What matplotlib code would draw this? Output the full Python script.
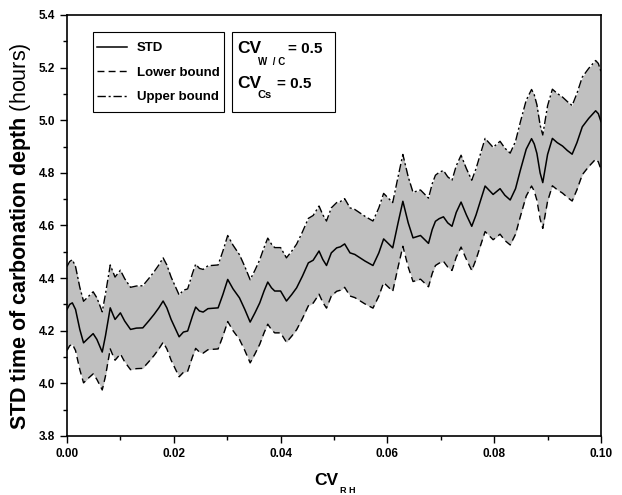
import matplotlib
matplotlib.use("Agg")
import matplotlib.pyplot as plt
from matplotlib.patches import Rectangle
from matplotlib.ticker import MultipleLocator, FormatStrFormatter

plt.rcParams['font.family'] = ['Liberation Sans', 'DejaVu Sans']
plt.rcParams['mathtext.fontset'] = 'custom'
plt.rcParams['mathtext.rm'] = 'Liberation Sans'
plt.rcParams['mathtext.bf'] = 'Liberation Sans:bold'

# values
cv_rh = [0.0000, 0.0005, 0.0010, 0.0016, 0.0024, 0.0031, 0.0039, 0.0049, 0.0056, 0.0066,
         0.0072, 0.0081, 0.0086, 0.0090, 0.0100, 0.0108, 0.0119, 0.0130, 0.0142, 0.0153,
         0.0163, 0.0172, 0.0180, 0.0187, 0.0195, 0.0210, 0.0218, 0.0226, 0.0235, 0.0241,
         0.0248, 0.0255, 0.0264, 0.0283, 0.0292, 0.0301, 0.0311, 0.0323, 0.0333,
         0.0343, 0.0352, 0.0361, 0.0369, 0.0376, 0.0383, 0.0389, 0.0400, 0.0411, 0.0421,
         0.0430, 0.0441, 0.0452, 0.0461, 0.0472, 0.0479, 0.0486, 0.0495, 0.0505, 0.0512,
         0.0520, 0.0530, 0.0539, 0.0558, 0.0573, 0.0584, 0.0593, 0.0610, 0.0620, 0.0629,
         0.0639, 0.0648, 0.0662,
         0.0677, 0.0684, 0.0690, 0.0697, 0.0705, 0.0713, 0.0721, 0.0729, 0.0738, 0.0748,
         0.0758, 0.0766, 0.0774, 0.0783, 0.0798, 0.0811, 0.0820, 0.0830, 0.0840, 0.0849,
         0.0860, 0.0870, 0.0875, 0.0880, 0.0886, 0.0891, 0.0900, 0.0909, 0.0918, 0.0928,
         0.0937, 0.0946, 0.0955, 0.0965, 0.0977, 0.0990, 0.0995, 0.1000]

std = [4.281, 4.300, 4.306, 4.281, 4.205, 4.154, 4.170, 4.189, 4.167, 4.119,
       4.180, 4.287, 4.262, 4.243, 4.268, 4.237, 4.205, 4.210, 4.211, 4.237,
       4.262, 4.287, 4.313, 4.287, 4.243, 4.177, 4.195, 4.199, 4.256, 4.290,
       4.275, 4.271, 4.284, 4.287, 4.338, 4.395, 4.359, 4.325, 4.281,
       4.233, 4.268, 4.306, 4.351, 4.385, 4.363, 4.351, 4.351, 4.313, 4.338,
       4.363, 4.408, 4.458, 4.468, 4.503, 4.471, 4.448, 4.496, 4.515, 4.519,
       4.530, 4.496, 4.490, 4.465, 4.448, 4.496, 4.549, 4.515, 4.610, 4.692,
       4.610, 4.553, 4.562,
       4.532, 4.585, 4.616, 4.626, 4.633, 4.610, 4.597, 4.650, 4.689, 4.640,
       4.597, 4.640, 4.692, 4.750, 4.718, 4.740, 4.715, 4.697, 4.740, 4.810,
       4.890, 4.930, 4.910, 4.874, 4.800, 4.763, 4.870, 4.931, 4.915, 4.902,
       4.885, 4.871, 4.915, 4.975, 5.007, 5.036, 5.025, 4.995]

lower = [4.125, 4.143, 4.149, 4.125, 4.052, 4.002, 4.018, 4.036, 4.015, 3.975,
         4.027, 4.131, 4.106, 4.088, 4.112, 4.082, 4.052, 4.056, 4.057, 4.082,
         4.106, 4.131, 4.156, 4.131, 4.088, 4.025, 4.042, 4.046, 4.101, 4.133,
         4.119, 4.115, 4.128, 4.131, 4.180, 4.235, 4.200, 4.167, 4.125,
         4.078, 4.112, 4.149, 4.192, 4.225, 4.204, 4.192, 4.192, 4.156, 4.180,
         4.204, 4.247, 4.295, 4.305, 4.339, 4.308, 4.286, 4.332, 4.350, 4.354,
         4.365, 4.332, 4.326, 4.302, 4.286, 4.332, 4.383, 4.350, 4.442, 4.521,
         4.442, 4.387, 4.396,
         4.367, 4.418, 4.448, 4.457, 4.464, 4.442, 4.429, 4.480, 4.518, 4.471,
         4.429, 4.471, 4.521, 4.577, 4.546, 4.567, 4.543, 4.526, 4.567, 4.634,
         4.712, 4.750, 4.731, 4.696, 4.625, 4.589, 4.692, 4.751, 4.736, 4.723,
         4.707, 4.693, 4.736, 4.793, 4.824, 4.852, 4.842, 4.813]

upper = [4.444, 4.463, 4.470, 4.444, 4.365, 4.312, 4.328, 4.348, 4.325, 4.272,
         4.339, 4.450, 4.424, 4.404, 4.430, 4.398, 4.365, 4.370, 4.371, 4.398,
         4.424, 4.450, 4.477, 4.450, 4.404, 4.336, 4.354, 4.359, 4.418, 4.453,
         4.437, 4.433, 4.447, 4.450, 4.503, 4.562, 4.525, 4.489, 4.444,
         4.394, 4.430, 4.470, 4.516, 4.552, 4.529, 4.516, 4.516, 4.477, 4.503,
         4.529, 4.576, 4.627, 4.638, 4.674, 4.641, 4.617, 4.667, 4.687, 4.691,
         4.702, 4.667, 4.661, 4.635, 4.617, 4.667, 4.722, 4.687, 4.785, 4.870,
         4.785, 4.726, 4.735,
         4.704, 4.759, 4.791, 4.802, 4.809, 4.785, 4.772, 4.827, 4.867, 4.816,
         4.772, 4.816, 4.870, 4.931, 4.897, 4.920, 4.894, 4.875, 4.920, 4.993,
         5.076, 5.117, 5.097, 5.059, 4.982, 4.944, 5.055, 5.118, 5.102, 5.088,
         5.071, 5.056, 5.102, 5.164, 5.197, 5.227, 5.216, 5.185]

fig = plt.figure(figsize=(6.22, 4.95), dpi=100)
ax = fig.add_axes([0.1077, 0.1192, 0.8585, 0.8505])

ax.fill_between(cv_rh, lower, upper, color='#c0c0c0', linewidth=0)
ax.plot(cv_rh, std, color='black', lw=1.1, label='STD')
ax.plot(cv_rh, lower, color='black', lw=1.0, ls=(0, (5, 3)), label='Lower bound')
ax.plot(cv_rh, upper, color='black', lw=1.0, ls=(0, (6, 2, 1.5, 2)), label='Upper bound')

ax.set_xlim(0, 0.1)
ax.set_ylim(3.8, 5.4)
ax.xaxis.set_major_locator(MultipleLocator(0.02))
ax.xaxis.set_minor_locator(MultipleLocator(0.01))
ax.yaxis.set_major_locator(MultipleLocator(0.2))
ax.yaxis.set_minor_locator(MultipleLocator(0.1))
ax.xaxis.set_major_formatter(FormatStrFormatter('%.2f'))
ax.yaxis.set_major_formatter(FormatStrFormatter('%.1f'))
ax.tick_params(which='major', direction='out', length=5, width=1.0, labelsize=8.5)
ax.tick_params(which='minor', direction='out', length=3, width=1.0)
for lab in ax.get_xticklabels() + ax.get_yticklabels():
    lab.set_fontweight('bold')
for sp in ax.spines.values():
    sp.set_linewidth(1.2)

ax.set_ylabel(r'STD time of carbonation depth $\mathrm{(hours)}$', fontsize=15.5, fontweight='bold')
ax.yaxis.set_label_coords(-0.064, 0.475)

# x label: CV with a small, low subscript
fig.text(0.506, 0.0202, 'CV', fontsize=12.5, fontweight='bold', va='baseline')
fig.text(0.547, 0.004, 'R H', fontsize=6.5, fontweight='bold', va='baseline')

# legend without frame, frame drawn as a box
leg = ax.legend(loc='upper left', bbox_to_anchor=(0.0562, 0.936), borderaxespad=0,
                frameon=False, handlelength=2.3, labelspacing=0.94, borderpad=0,
                handletextpad=0.7, prop={'weight': 'bold', 'size': 9.5})
ax.add_patch(Rectangle((0.0487, 0.7696), 0.2453, 0.19, transform=ax.transAxes,
                       fill=False, edgecolor='black', lw=0.8))

# parameter box
ax.add_patch(Rectangle((0.309, 0.7696), 0.193, 0.19, transform=ax.transAxes,
                       fill=False, edgecolor='black', lw=0.8))
ax.text(0.3197, 0.909, 'CV', transform=ax.transAxes, fontsize=12.5, fontweight='bold', va='baseline')
ax.text(0.3577, 0.901, 'W  / C', transform=ax.transAxes, fontsize=7, fontweight='bold', va='top')
ax.text(0.414, 0.909, '= 0.5', transform=ax.transAxes, fontsize=11, fontweight='bold', va='baseline')
ax.text(0.3197, 0.826, 'CV', transform=ax.transAxes, fontsize=12.5, fontweight='bold', va='baseline')
ax.text(0.3577, 0.822, 'Cs', transform=ax.transAxes, fontsize=8, fontweight='bold', va='top')
ax.text(0.393, 0.826, '= 0.5', transform=ax.transAxes, fontsize=11, fontweight='bold', va='baseline')

fig.savefig('out.png', dpi=100)
